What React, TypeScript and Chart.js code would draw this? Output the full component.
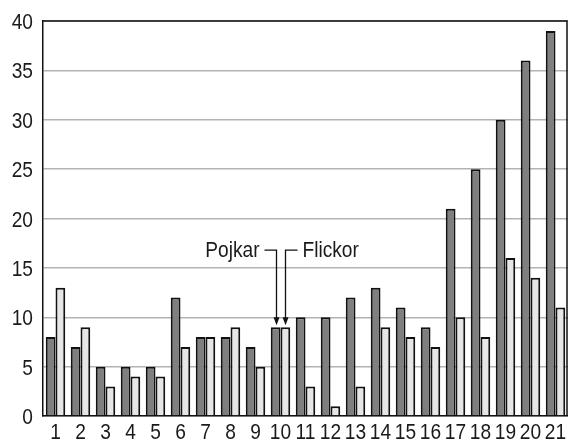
import React, { useEffect, useRef } from "react";
import { Chart, registerables } from "chart.js";

Chart.register(...registerables);

const categories = ["1","2","3","4","5","6","7","8","9","10","11","12","13","14","15","16","17","18","19","20","21"];
const pojkar = [8, 7, 5, 5, 5, 12, 8, 8, 7, 9, 10, 10, 12, 13, 11, 9, 21, 25, 30, 36, 39];
const flickor = [13, 9, 3, 4, 4, 7, 8, 9, 5, 9, 3, 1, 3, 9, 8, 7, 10, 8, 16, 14, 11];
const seriesNames = ["Pojkar", "Flickor"];
const yTicks = [0, 5, 10, 15, 20, 25, 30, 35, 40];
const annotatedIndex = 9;
const annotationLevel = 16.8;

const FONT = "'Liberation Sans', Arial, sans-serif";
const FONT_SIZE = 22;
const NARROW = 0.87;
const TEXT_COLOR = "#1a1a1a";

function drawNarrow(ctx: CanvasRenderingContext2D, text: string, x: number, y: number, align: CanvasTextAlign) {
  ctx.save();
  ctx.translate(x, y);
  ctx.scale(NARROW, 1);
  ctx.font = `${FONT_SIZE}px ${FONT}`;
  ctx.fillStyle = TEXT_COLOR;
  ctx.textAlign = align;
  ctx.textBaseline = "middle";
  ctx.fillText(text, 0, 0);
  ctx.restore();
}

const framePlugin = {
  id: "frame",
  afterDraw(chart: any) {
    const { ctx, chartArea } = chart;
    ctx.save();
    ctx.strokeStyle = "#111";
    ctx.lineWidth = 1.5;
    ctx.beginPath();
    ctx.moveTo(chartArea.left, chartArea.top);
    ctx.lineTo(chartArea.right - 1, chartArea.top);
    ctx.lineTo(chartArea.right - 1, chartArea.bottom);
    ctx.stroke();
    ctx.restore();
  },
};

const labelsPlugin = {
  id: "narrowLabels",
  afterDraw(chart: any) {
    const { ctx, chartArea } = chart;
    const xs = chart.scales.x;
    const ys = chart.scales.y;
    yTicks.forEach((v) => {
      drawNarrow(ctx, String(v), chartArea.left - 10, ys.getPixelForValue(v) + 2, "right");
    });
    categories.forEach((c, i) => {
      drawNarrow(ctx, c, xs.getPixelForValue(i), chartArea.bottom + 17, "center");
    });
  },
};

const annotationPlugin = {
  id: "arrows",
  afterDatasetsDraw(chart: any) {
    const { ctx } = chart;
    const yScale = chart.scales.y;
    const yText = yScale.getPixelForValue(annotationLevel);
    ctx.save();
    ctx.strokeStyle = "#111";
    ctx.fillStyle = "#111";
    ctx.lineWidth = 1.3;
    [0, 1].forEach((di) => {
      const bar = chart.getDatasetMeta(di).data[annotatedIndex];
      const bx = Math.round(bar.x) + 0.5;
      const by = bar.y - 2;
      const dir = di === 0 ? -1 : 1;
      const hx = bx + dir * 12;
      ctx.beginPath();
      ctx.moveTo(hx, yText);
      ctx.lineTo(bx, yText);
      ctx.lineTo(bx, by - 6);
      ctx.stroke();
      ctx.beginPath();
      ctx.moveTo(bx, by);
      ctx.lineTo(bx - 3, by - 8);
      ctx.lineTo(bx + 3, by - 8);
      ctx.closePath();
      ctx.fill();
      drawNarrow(ctx, seriesNames[di], hx + dir * 5, yText + 1, di === 0 ? "right" : "left");
    });
    ctx.restore();
  },
};

export default function App() {
  const ref = useRef<HTMLCanvasElement | null>(null);
  useEffect(() => {
    document.body.style.margin = "0";
    if (!ref.current) return;
    const chart = new Chart(ref.current, {
      type: "bar",
      data: {
        labels: categories,
        datasets: [
          {
            label: seriesNames[0],
            data: pojkar,
            backgroundColor: "#7f7f7f",
            borderColor: "#111111",
            borderWidth: 2,
            categoryPercentage: 0.78,
            barPercentage: 1,
          },
          {
            label: seriesNames[1],
            data: flickor,
            backgroundColor: "#e6e6e6",
            borderColor: "#111111",
            borderWidth: 2,
            categoryPercentage: 0.78,
            barPercentage: 1,
          },
        ],
      },
      options: {
        animation: false,
        responsive: false,
        devicePixelRatio: 1,
        layout: { padding: { top: 21, right: 0, left: 0, bottom: 0 } },
        plugins: { legend: { display: false }, tooltip: { enabled: false } },
        scales: {
          x: {
            grid: { display: false, drawTicks: false },
            border: { color: "#111", width: 1.5 },
            ticks: { color: "rgba(0,0,0,0)", font: { family: FONT, size: 12 }, padding: 5, maxRotation: 0, autoSkip: false },
            afterFit(scale: any) { scale.height = 25; },
          },
          y: {
            min: 0,
            max: 40,
            afterBuildTicks(scale: any) { scale.ticks = yTicks.map((v) => ({ value: v })); },
            grid: { color: "#b3b3b3", lineWidth: 1.5, drawTicks: false },
            border: { color: "#111", width: 1.5 },
            ticks: { color: "rgba(0,0,0,0)", font: { family: FONT, size: 12 }, padding: 10 },
            afterFit(scale: any) { scale.width = 43; },
          },
        },
      },
      plugins: [framePlugin, annotationPlugin, labelsPlugin],
    });
    return () => chart.destroy();
  }, []);
  return <canvas ref={ref} width={568} height={441} style={{ display: "block" }} />;
}
